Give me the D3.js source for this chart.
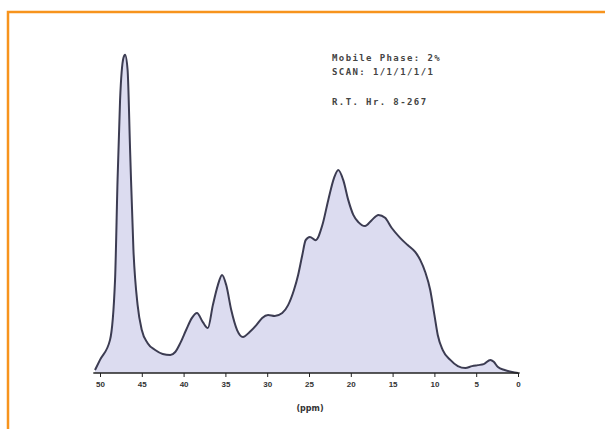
<!DOCTYPE html>
<html>
<head>
<meta charset="utf-8">
<script src="https://cdn.jsdelivr.net/npm/d3@7"></script>
<style>
  body { margin: 0; background: #fff; }
  svg { display: block; font-family: 'DejaVu Sans', sans-serif; }
</style>
</head>
<body>
<svg id="container"></svg>
<script>
// spectrum trace: position (axis units, right to left) and intensity
const shifts = [50.6, 50.0, 48.8, 48.2, 47.9, 47.6, 47.2, 47.0, 46.7, 46.4, 46.0, 45.5, 45.0, 44.3, 43.4, 42.5, 41.6, 41.0,
  40.4, 39.7, 39.0, 38.4, 37.7, 37.1, 36.5, 35.9, 35.4, 34.9, 34.3, 33.6, 32.9, 32.1, 31.3, 30.6, 29.9, 29.1, 28.2,
  27.5, 26.8, 26.3, 25.8, 25.4, 24.9, 24.2, 23.4, 22.7, 22.0, 21.5, 20.9, 20.3, 19.7, 19.1, 18.3, 17.5, 16.7, 15.9,
  15.1, 14.1, 13.2, 12.3, 11.7, 11.1, 10.5, 10.0, 9.6, 9.0, 8.1, 7.2, 6.3, 5.5, 4.8, 4.1, 3.3, 2.9, 2.4, 1.6, 0.7, 0]
const intensity = [0.9, 4.0, 10.1, 28.4, 58.8, 83.2, 96.0, 97.0, 92.4, 68.0, 37.5, 20.7, 13.1, 9.1, 7.0, 5.8, 5.5, 6.4,
  9.1, 13.1, 16.8, 18.3, 15.5, 13.7, 20.7, 26.8, 29.9, 26.8, 19.2, 13.1, 11.0, 12.5, 14.6, 16.8, 17.7, 17.4, 18.3,
  20.7, 25.3, 29.9, 36.0, 40.5, 41.5, 40.5, 45.1, 52.7, 59.5, 61.9, 58.8, 52.7, 48.2, 46.0, 44.8, 46.6, 48.2, 47.3,
  44.2, 41.2, 39.0, 36.9, 34.5, 30.8, 25.3, 17.7, 11.6, 7.0, 4.0, 2.1, 1.5, 2.1, 2.4, 2.7, 4.0, 3.4, 1.8, 0.9, 0.3, 0]

const xTicks = [50, 45, 40, 35, 30, 25, 20, 15, 10, 5, 0]
const xTitle = '(ppm)'
const notes = ['Mobile Phase: 2%', 'SCAN: 1/1/1/1/1', 'R.T. Hr. 8-267']

const width = 605
const height = 429

const svg = d3.select('#container').attr('width', width).attr('height', height)

// orange frame (top and left edges only)
svg.append('path')
  .attr('d', 'M8,429 V12 H605')
  .attr('fill', 'none')
  .attr('stroke', '#f7941d')
  .attr('stroke-width', 2.5)

const x = d3.scaleLinear().domain([50, 0]).range([100, 518])
const y = d3.scaleLinear().domain([0, 100]).range([373, 45])

const data = shifts.map((s, i) => ({ s, v: intensity[i] }))

const area = d3.area()
  .x(d => x(d.s))
  .y0(y(0))
  .y1(d => y(d.v))
  .curve(d3.curveMonotoneX)

const line = d3.line()
  .x(d => x(d.s))
  .y(d => y(d.v))
  .curve(d3.curveMonotoneX)

svg.append('path')
  .datum(data)
  .attr('d', area)
  .attr('fill', '#dcdcf0')

svg.append('path')
  .datum(data)
  .attr('d', line)
  .attr('fill', 'none')
  .attr('stroke', '#3c3c52')
  .attr('stroke-width', 2)

// x axis
const gX = svg.append('g')
  .attr('transform', `translate(0,${y(0)})`)
  .call(d3.axisBottom(x).tickValues(xTicks).tickSize(4).tickPadding(4).tickFormat(d => d))

gX.select('.domain').attr('stroke', '#222').attr('stroke-width', 1.5)
  .attr('d', `M${x(50.8)},0H${x(-0.2)}`)
gX.selectAll('.tick line').attr('stroke', '#222')
gX.selectAll('.tick text')
  .attr('fill', '#333')
  .style('font-size', '8px')
  .style('font-weight', 'bold')

svg.append('text')
  .attr('x', 310)
  .attr('y', 411)
  .attr('text-anchor', 'middle')
  .attr('fill', '#333')
  .style('font-size', '8px')
  .style('font-weight', 'bold')
  .text(xTitle)

// annotation block
svg.append('g')
  .selectAll('text')
  .data(notes)
  .join('text')
  .attr('x', 332)
  .attr('y', (d, i) => [61, 75, 105][i])
  .attr('fill', '#444')
  .style('font-family', "'DejaVu Sans Mono', monospace")
  .style('font-size', '9px')
  .style('font-weight', 'bold')
  .style('letter-spacing', '1.4px')
  .text(d => d)
</script>
</body>
</html>
